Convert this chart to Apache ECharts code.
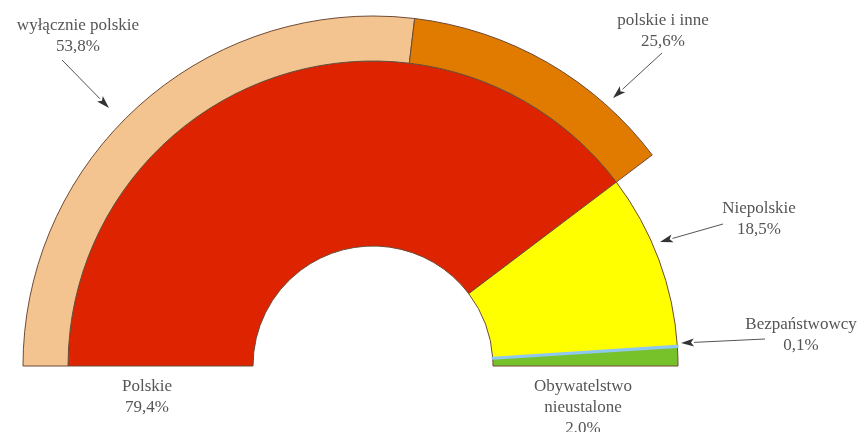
<!DOCTYPE html>
<html>
<head>
<meta charset="utf-8">
<script src="https://cdn.jsdelivr.net/npm/echarts@6/dist/echarts.min.js"></script>
<style>
    html, body { margin: 0; padding: 0; background: #fff; }
    #main { width: 864px; height: 432px; }
</style>
</head>
<body>
<div id="main"></div>
<script>
// pierścień wewnętrzny - obywatelstwo
var innerNames = ['Polskie', 'Niepolskie', 'Bezpaństwowcy', 'Obywatelstwo\nnieustalone']
var innerValues = [79.4, 18.5, 0.1, 2.0]
// pierścień zewnętrzny - narodowość w grupie Polskie
var outerNames = ['wyłącznie polskie', 'polskie i inne']
var outerValues = [53.8, 25.6]

var innerColors = ['#dd2300', '#ffff00', '#8ec8f0', '#77c22a']
var outerColors = ['#f4c490', '#e07b00']

// położenie opisów (środek bloku tekstu)
var innerLabelPos = [[147, 397], [759, 219], [801, 335], [583, 408]]
var outerLabelPos = [[78, 36], [663, 31]]

// strzałki: [x1, y1, x2, y2] od opisu do wycinka
var arrows = [
    [62, 60, 109, 108],
    [662, 53, 613, 98],
    [723, 224, 660, 242],
    [765, 339, 681, 343]
]

var center = [373, 366]
var textStyle = {
    fontFamily: 'Liberation Serif',
    fontSize: 17,
    lineHeight: 21,
    color: '#555'
}

function fmt(p) {
    return p.name + '\n' + p.value.toFixed(1).replace('.', ',') + '%'
}

function sum(arr) {
    return arr.reduce(function (a, b) { return a + b }, 0)
}

function arrowGraphic(a) {
    var dx = a[2] - a[0], dy = a[3] - a[1]
    var len = Math.sqrt(dx * dx + dy * dy)
    var ux = dx / len, uy = dy / len
    var hl = 13, hw = 4
    var bx = a[2] - ux * hl, by = a[3] - uy * hl
    return {
        type: 'group',
        silent: true,
        children: [
            {
                type: 'line',
                shape: { x1: a[0], y1: a[1], x2: bx, y2: by },
                style: { stroke: '#555', lineWidth: 1 }
            },
            {
                type: 'polygon',
                shape: {
                    points: [
                        [a[2], a[3]],
                        [bx - uy * hw, by + ux * hw],
                        [bx + ux * 3, by + uy * 3],
                        [bx + uy * hw, by - ux * hw]
                    ]
                },
                style: { fill: '#333' }
            }
        ]
    }
}

var innerData = innerNames.map(function (n, i) {
    var d = { name: n, value: innerValues[i], itemStyle: { color: innerColors[i] } }
    if (n === 'Bezpaństwowcy') {
        d.itemStyle.borderColor = innerColors[i]
        d.itemStyle.borderWidth = 2.5
    }
    return d
})
// cienki wycinek rysowany na końcu, żeby był widoczny
var innerOrder = [0, 1, 3, 2]

var outerData = outerNames.map(function (n, i) {
    return { name: n, value: outerValues[i], itemStyle: { color: outerColors[i] } }
})
// reszta pierścienia zewnętrznego - pusta
outerData.push({
    name: '',
    value: sum(innerValues) - sum(outerValues),
    itemStyle: { color: 'rgba(0,0,0,0)', borderWidth: 0 },
    label: { show: false }
})

var chart = echarts.init(document.getElementById('main'))

var option = {
    animation: false,
    backgroundColor: '#fff',
    series: [
        {
            name: 'obywatelstwo',
            type: 'pie',
            center: center,
            radius: [120, 305],
            startAngle: 180,
            endAngle: 0,
            clockwise: true,
            avoidLabelOverlap: false,
            silent: true,
            itemStyle: { borderColor: '#6e4b36', borderWidth: 1 },
            label: Object.assign({ show: true, position: 'outside', formatter: fmt }, textStyle),
            labelLine: { show: false },
            labelLayout: function (params) {
                var p = innerLabelPos[params.dataIndex]
                return { x: p[0], y: p[1], align: 'center', verticalAlign: 'middle' }
            },
            data: innerData
        },
        {
            name: 'narodowość',
            type: 'pie',
            center: center,
            radius: [305, 350],
            startAngle: 180,
            endAngle: 0,
            clockwise: true,
            avoidLabelOverlap: false,
            silent: true,
            itemStyle: { borderColor: '#6e4b36', borderWidth: 1 },
            label: Object.assign({ show: true, position: 'outside', formatter: fmt }, textStyle),
            labelLine: { show: false },
            labelLayout: function (params) {
                var p = outerLabelPos[params.dataIndex] || [0, 0]
                return { x: p[0], y: p[1], align: 'center', verticalAlign: 'middle' }
            },
            data: outerData
        }
    ],
    graphic: arrows.map(arrowGraphic)
}
chart.setOption(option)

// wycinek Bezpaństwowcy na wierzch
var bez = chart.getModel().getSeriesByIndex(0).getData().getItemGraphicEl(2)
if (bez) {
    bez.z2 = 10
    bez.dirty()
}
</script>
</body>
</html>
